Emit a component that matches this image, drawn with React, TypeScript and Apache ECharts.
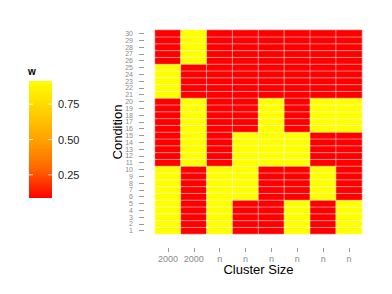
import React, { useEffect, useRef } from "react";
import * as echarts from "echarts";

// Cluster size labels (x axis, left to right)
const xLabels = ["2000", "2000", "n", "n", "n", "n", "n", "n"];
// Condition labels (y axis, bottom to top)
const yLabels = Array.from({ length: 30 }, (_, i) => String(i + 1));

// w per column, rows 1..30 (bottom to top)
const col1 = [0.914,0.914,0.914,0.914,0.914,0.914,0.914,0.914,0.914,0.914, 0.086,0.086,0.086,0.086,0.086,0.086,0.086,0.086,0.086,0.086, 0.914,0.914,0.914,0.914,0.914, 0.086,0.086,0.086,0.086,0.086];
const col2 = [0.086,0.086,0.086,0.086,0.086,0.086,0.086,0.086,0.086,0.086, 0.914,0.914,0.914,0.914,0.914,0.914,0.914,0.914,0.914,0.914, 0.086,0.086,0.086,0.086,0.086, 0.914,0.914,0.914,0.914,0.914];
const col3 = [0.914,0.914,0.914,0.914,0.914,0.914,0.914,0.914,0.914,0.914, 0.086,0.086,0.086,0.086,0.086,0.086,0.086,0.086,0.086,0.086, 0.086,0.086,0.086,0.086,0.086, 0.086,0.086,0.086,0.086,0.086];
const col4 = [0.086,0.086,0.086,0.086,0.086, 0.914,0.914,0.914,0.914,0.914,0.914,0.914,0.914,0.914,0.914, 0.086,0.086,0.086,0.086,0.086, 0.086,0.086,0.086,0.086,0.086, 0.086,0.086,0.086,0.086,0.086];
const col5 = [0.086,0.086,0.086,0.086,0.086,0.086,0.086,0.086,0.086,0.086, 0.914,0.914,0.914,0.914,0.914,0.914,0.914,0.914,0.914,0.914, 0.086,0.086,0.086,0.086,0.086, 0.086,0.086,0.086,0.086,0.086];
const col6 = [0.914,0.914,0.914,0.914,0.914, 0.086,0.086,0.086,0.086,0.086, 0.914,0.914,0.914,0.914,0.914, 0.086,0.086,0.086,0.086,0.086, 0.086,0.086,0.086,0.086,0.086, 0.086,0.086,0.086,0.086,0.086];
const col7 = [0.086,0.086,0.086,0.086,0.086, 0.914,0.914,0.914,0.914,0.914, 0.086,0.086,0.086,0.086,0.086, 0.914,0.914,0.914,0.914,0.914, 0.086,0.086,0.086,0.086,0.086, 0.086,0.086,0.086,0.086,0.086];
const col8 = [0.914,0.914,0.914,0.914,0.914, 0.086,0.086,0.086,0.086,0.086,0.086,0.086,0.086,0.086,0.086, 0.914,0.914,0.914,0.914,0.914, 0.086,0.086,0.086,0.086,0.086, 0.086,0.086,0.086,0.086,0.086];
const columns = [col1, col2, col3, col4, col5, col6, col7, col8];

// Legend tick values
const legendTicks = [0.25, 0.5, 0.75];

const FONT = "Liberation Sans, Arial, sans-serif";

export default function App() {
  const ref = useRef<HTMLDivElement>(null);
  useEffect(() => {
    if (!ref.current) return;
    const chart = echarts.init(ref.current, undefined, { renderer: "svg" });
    const data: number[][] = [];
    columns.forEach((col, x) => col.forEach((v, y) => data.push([x, y, v])));
    const all = columns.flat();
    const vmin = Math.min(...all);
    const vmax = Math.max(...all);

    const lgLeft = 29, lgTop = 81, lgW = 23, lgH = 117;
    const yOf = (v: number) => lgTop + ((vmax - v) / (vmax - vmin)) * lgH;
    const colorStops = [
      { offset: 0, color: "#FFFF00" },
      { offset: 0.25, color: "#FFD200" },
      { offset: 0.5, color: "#FFA200" },
      { offset: 0.75, color: "#FF6600" },
      { offset: 1, color: "#FF0000" },
    ];

    const graphic: any[] = [
      { type: "text", left: 28, top: 66, style: { text: "w", font: `bold 10px ${FONT}`, fill: "#000" } },
      {
        type: "rect",
        shape: { x: lgLeft, y: lgTop, width: lgW, height: lgH },
        style: { fill: new echarts.graphic.LinearGradient(0, 0, 0, 1, colorStops) },
      },
    ];
    legendTicks.forEach((t) => {
      const y = yOf(t);
      graphic.push({ type: "line", shape: { x1: lgLeft, y1: y, x2: lgLeft + 4, y2: y }, style: { stroke: "rgba(255,255,255,0.8)", lineWidth: 1 } });
      graphic.push({ type: "line", shape: { x1: lgLeft + lgW - 4, y1: y, x2: lgLeft + lgW, y2: y }, style: { stroke: "rgba(255,255,255,0.8)", lineWidth: 1 } });
      graphic.push({
        type: "text",
        x: lgLeft + lgW + 6,
        y,
        style: { text: t.toFixed(2), font: `11px ${FONT}`, fill: "#1a1a1a", verticalAlign: "middle", align: "left" },
      });
    });

    chart.setOption({
      animation: false,
      backgroundColor: "#fff",
      grid: { left: 155, right: 30, top: 30, bottom: 60 },
      xAxis: {
        type: "category",
        data: xLabels.map((_, i) => String(i)),
        offset: 14,
        axisLine: { show: false },
        axisTick: { show: true, length: 4, alignWithLabel: true, interval: 0, lineStyle: { color: "#999" } },
        axisLabel: { formatter: (v: string) => xLabels[Number(v)], color: "#8a8a8a", fontSize: 9, fontFamily: FONT, margin: 6, interval: 0 },
        splitLine: { show: false },
        name: "Cluster Size",
        nameLocation: "middle",
        nameGap: 15,
        nameMoveOverlap: false,
        nameTextStyle: { fontSize: 13, color: "#000", fontFamily: FONT },
      },
      yAxis: {
        type: "category",
        data: yLabels,
        offset: 11,
        axisLine: { show: false },
        axisTick: { show: true, length: 5, alignWithLabel: true, interval: 0, lineStyle: { color: "#999" } },
        axisLabel: { color: "#8a8a8a", fontSize: 7, fontFamily: FONT, margin: 11, interval: 0 },
        splitLine: { show: false },
        name: "Condition",
        nameLocation: "middle",
        nameRotate: 90,
        nameGap: 20,
        nameMoveOverlap: false,
        nameTextStyle: { fontSize: 13, color: "#000", fontFamily: FONT },
      },
      visualMap: {
        show: false,
        min: vmin,
        max: vmax,
        dimension: 2,
        inRange: { color: ["#FF0000", "#FF6600", "#FFA200", "#FFD200", "#FFFF00"] },
      },
      graphic,
      series: [
        {
          type: "heatmap",
          data,
          itemStyle: { borderColor: "rgba(255,255,255,0.6)", borderWidth: 0.8 },
          emphasis: { disabled: true },
        },
      ],
    });
    return () => chart.dispose();
  }, []);
  return <div ref={ref} style={{ position: "fixed", left: 0, top: 0, width: 392, height: 294 }} />;
}
